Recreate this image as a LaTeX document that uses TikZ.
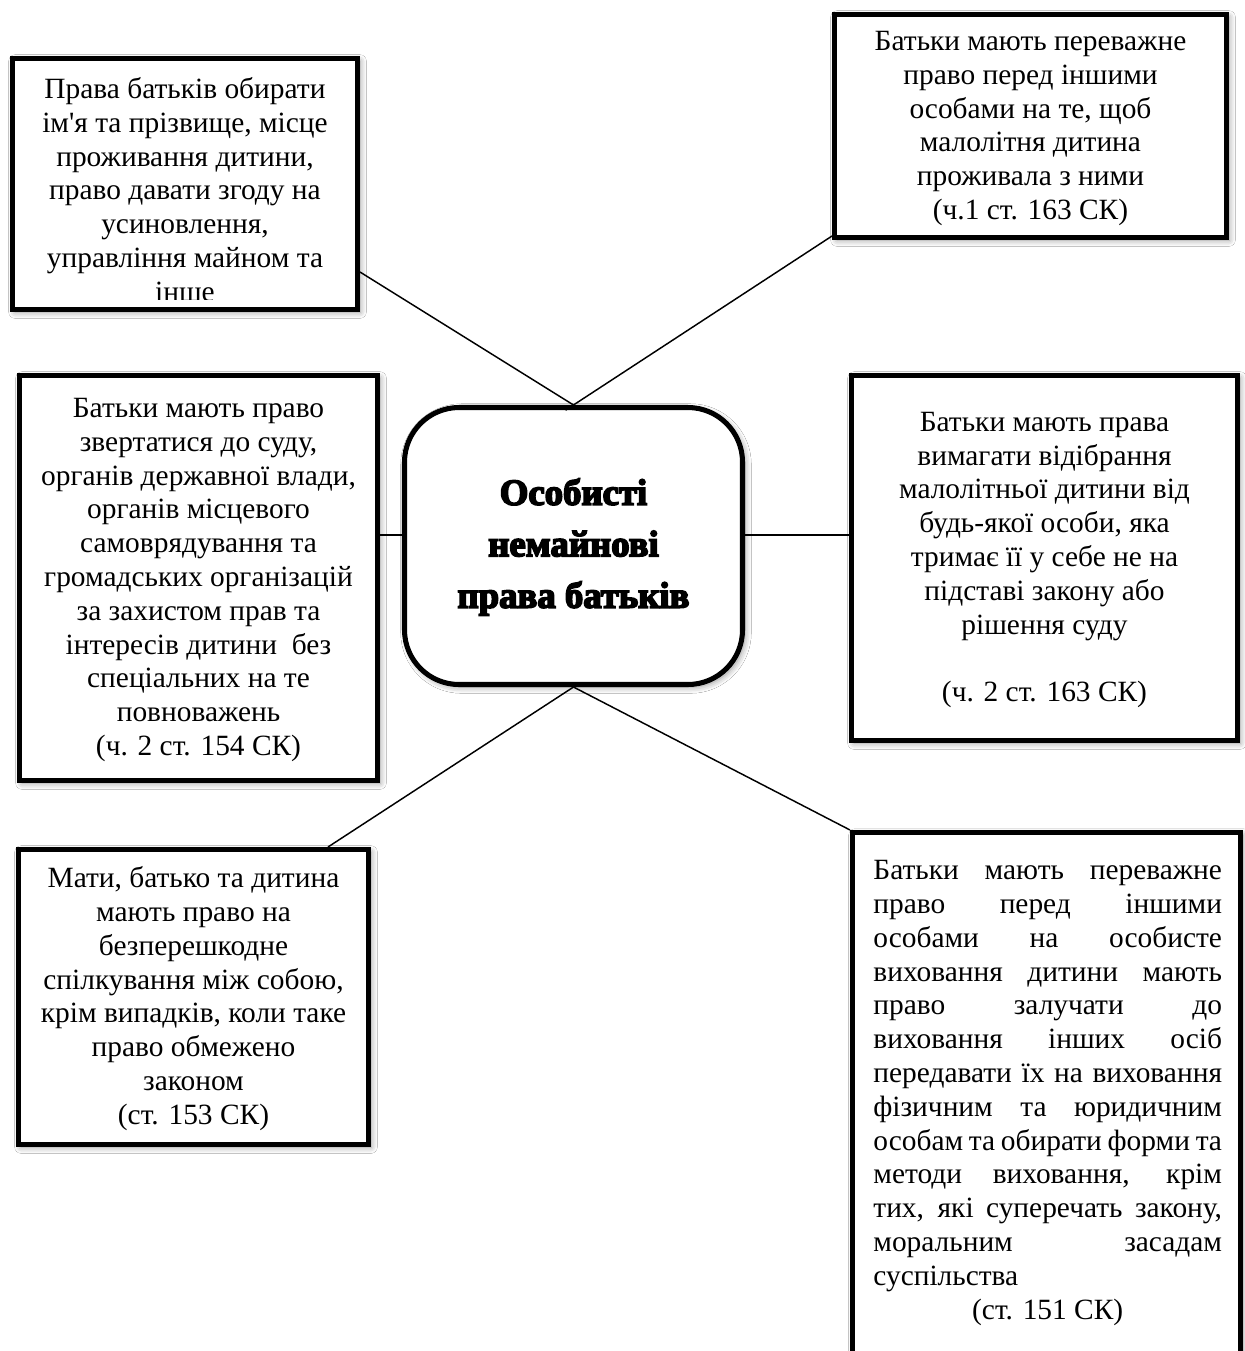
\documentclass[tikz,border=0pt]{standalone}
\usepackage{fontspec}
\setmainfont{Liberation Serif}[Ligatures=TeXOff]
\newfontfamily\headfont{Liberation Serif Bold}[Ligatures=TeXOff, FakeBold=4.5]
\usetikzlibrary{fit,calc,shadows.blur}
\newlength\brw
\setlength\brw{166pt}
\newcommand{\jline}[1]{\makebox[\brw][s]{#1}}
\begin{document}
\begin{tikzpicture}[x=0.47619pt,y=-0.47619pt,
  box/.style={draw, line width=2.4pt, fill=white, inner sep=0pt,
    blur shadow={shadow xshift=1.2pt, shadow yshift=-1.2pt, shadow blur radius=3pt, shadow opacity=45}},
  txt/.style={align=center, inner sep=0pt, font=\fontsize{14pt}{16.1pt}\selectfont},
  link/.style={line width=0.7pt},
  head/.style={align=center, inner sep=0pt, font=\headfont\fontsize{17.5pt}{24.5pt}\selectfont}]
\useasboundingbox (0,0) rectangle (1245,1351);
\fill[white] (0,0) rectangle (1245,1351);
% boxes
\node[box, fit={(12.5,58.5) (357.5,309.5)}] (tl) {};
\node[box, fit={(834.5,14.5) (1226.5,237.5)}] (tr) {};
\node[box, fit={(19.5,375.5) (377.5,780.5)}] (lm) {};
\node[box, fit={(851.5,375.5) (1237.5,740.5)}] (rm) {};
\node[box, fit={(18.5,849.5) (368.5,1144.5)}] (bl) {};
\node[box, fit={(852.5,832.5) (1240.5,1420)}] (br) {};
\node[box, rounded corners=26pt, fit={(404.5,407.5) (742.5,684.5)}] (c) {};
% connectors
\coordinate (tlA) at ($(tl.south east)+(0,-40)$);
\coordinate (trA) at ($(tr.south west)+(0,-4)$);
\coordinate (cw) at ($(c.west)+(0,-11)$);
\coordinate (ce) at ($(c.east)+(0,-11)$);
\coordinate (blA) at ($(bl.north east)+(-43,0)$);
\draw[link] (tlA) -- (c.north);
\draw[link, shorten >=-4.5pt] (trA) -- (c.north);
\draw[link] (cw) -- (cw -| lm.east);
\draw[link] (ce) -- (ce -| rm.west);
\draw[link] (c.south) -- (blA);
\draw[link] (c.south) -- (br.north west);
% texts
\begin{scope}
\clip (tl.north west) rectangle ($(tl.south east)+(0,-13)$);
\node[txt, anchor=north] (tlT) at ($(tl.north)+(0,21)$) {Права батьків обирати\\ім'я та прізвище, місце\\проживання дитини,\\право давати згоду на\\усиновлення,\\управління майном та\\інше};
\end{scope}
\node[txt] (trT) at ($(tr.center)+(0,2.5)$) {Батьки мають переважне\\право перед іншими\\особами на те, щоб\\малолітня дитина\\проживала з ними\\(ч.1 ст. 163 СК)};
\node[txt] (lmT) at ($(lm.center)+(0,2)$) {Батьки мають право\\звертатися до суду,\\органів державної влади,\\органів місцевого\\самоврядування та\\громадських організацій\\за захистом прав та\\інтересів дитини\ \ без\\спеціальних на те\\повноважень\\(ч. 2 ст. 154 СК)};
\node[txt] (rmT) at ($(rm.center)+(0,2)$) {Батьки мають права\\вимагати відібрання\\малолітньої дитини від\\будь-якої особи, яка\\тримає її у себе не на\\підставі закону або\\рішення суду\\[16.1pt](ч. 2 ст. 163 СК)};
\node[txt] (blT) at ($(bl.center)+(0,1.5)$) {Мати, батько та дитина\\мають право на\\безперешкодне\\спілкування між собою,\\крім випадків, коли таке\\право обмежено\\законом\\(ст. 153 СК)};
\node[txt, align=left, anchor=north west] (brT) at ($(br.north west)+(23,30)$) {\jline{Батьки мають переважне}\\\jline{право перед іншими}\\\jline{особами на особисте}\\\jline{виховання дитини мають}\\\jline{право залучати до}\\\jline{виховання інших осіб}\\\jline{передавати їх на виховання}\\\jline{фізичним та юридичним}\\\jline{особам та обирати форми та}\\\jline{методи виховання, крім}\\\jline{тих, які суперечать закону,}\\\jline{моральним засадам}\\суспільства\\\makebox[\brw][c]{(ст. 151 СК)}};
\node[head] (cT) at ($(c.center)+(0,1)$) {Особисті\\немайнові\\права батьків};
\end{tikzpicture}
\end{document}
